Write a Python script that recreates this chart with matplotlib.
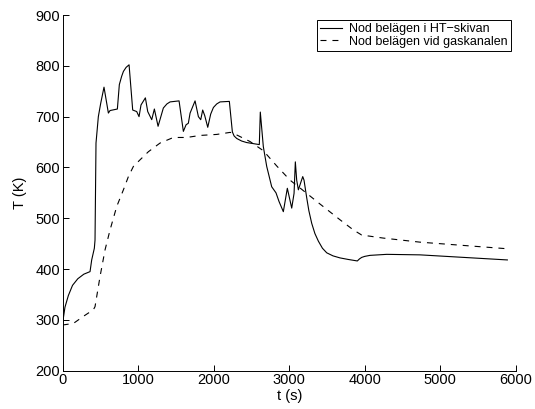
import matplotlib
matplotlib.use("Agg")
import matplotlib.pyplot as plt

plt.rcParams["font.family"] = ["Liberation Sans", "DejaVu Sans"]
plt.rcParams["lines.scale_dashes"] = False

# solid: node in the HT disc
t_disc = [0, 30, 75, 130, 200, 280, 362, 384, 419, 428, 441, 472, 503, 547, 605, 627,
          724, 750, 780, 804, 840, 879, 927, 980, 1011, 1037, 1095, 1126, 1179, 1214,
          1263, 1333, 1380, 1422, 1541, 1598, 1634, 1664, 1687, 1753, 1797, 1828, 1854,
          1881, 1921, 1960, 1996, 2040, 2084, 2207, 2247, 2270, 2305, 2370, 2437, 2604,
          2617, 2657, 2702, 2768, 2825, 2865, 2922, 2975, 3033, 3064, 3081, 3099, 3121,
          3179, 3196, 3232, 3260, 3298, 3340, 3386, 3440, 3497, 3580, 3673, 3780, 3902,
          3930, 3960, 4000, 4070, 4291, 4732, 5889]
T_disc = [295, 325, 348, 368, 381, 390, 395, 418, 441, 457, 648, 700, 726, 758, 707, 712,
          715, 763, 779, 789, 797, 802, 713, 710, 700, 723, 737, 710, 694, 715,
          681, 717, 725, 729, 731, 671, 684, 687, 707, 731, 700, 694, 713,
          702, 679, 705, 718, 725, 729, 730, 670, 662, 657, 652, 649, 645,
          709, 641, 602, 562, 550, 533, 513, 559, 520, 549, 611, 575, 556,
          582, 575, 540, 515, 490, 470, 455, 441, 432, 426, 422, 419, 416,
          420, 423, 425, 427, 429, 428, 418]

# dashed: node by the gas channel
t_chan = [0, 141, 274, 406, 428, 494, 561, 627, 715, 804, 870, 936, 1024, 1135, 1289,
          1466, 1642, 1819, 2040, 2217, 2250, 2481, 2657, 2834, 3011, 3165, 3408, 3673,
          3850, 3960, 4246, 4732, 5889]
T_chan = [290, 293, 307, 320, 326, 385, 438, 477, 523, 556, 582, 602, 615, 631, 648,
          659, 659, 663, 665, 669, 668, 651, 633, 603, 575, 557, 528, 497,
          477, 467, 461, 453, 440]

labels = ["Nod belägen i HT\u2212skivan", "Nod belägen vid gaskanalen"]

fig = plt.figure(figsize=(5.35, 4.09), dpi=100)
ax = fig.add_axes([0.1172, 0.0936, 0.8468, 0.8697])

ax.plot(t_disc, T_disc, color="black", linewidth=0.8, label=labels[0])
ax.plot(t_chan, T_chan, color="black", linewidth=0.8, linestyle=(0, (4.3, 4.3)),
        label=labels[1])

ax.set_xlim(0, 6000)
ax.set_ylim(200, 900)
ax.set_xticks(range(0, 6001, 1000))
ax.set_yticks(range(200, 901, 100))
ax.set_xlabel("t (s)", fontsize=10.5, labelpad=1)
ax.set_ylabel("T (K)", fontsize=10.5, labelpad=6)

for side in ["top", "right"]:
    ax.spines[side].set_visible(False)
for side in ["left", "bottom"]:
    ax.spines[side].set_linewidth(0.7)
ax.tick_params(direction="in", length=4, width=0.7, labelsize=10.5, pad=2)

leg = ax.legend(loc="upper right", bbox_to_anchor=(0.989, 0.986), borderaxespad=0,
                fontsize=9, fancybox=False, framealpha=1, edgecolor="black",
                handlelength=1.7, labelspacing=0.05, borderpad=0.25, handletextpad=0.6)
leg.get_frame().set_linewidth(0.7)

fig.savefig("out.png", dpi=100)
plt.close(fig)
